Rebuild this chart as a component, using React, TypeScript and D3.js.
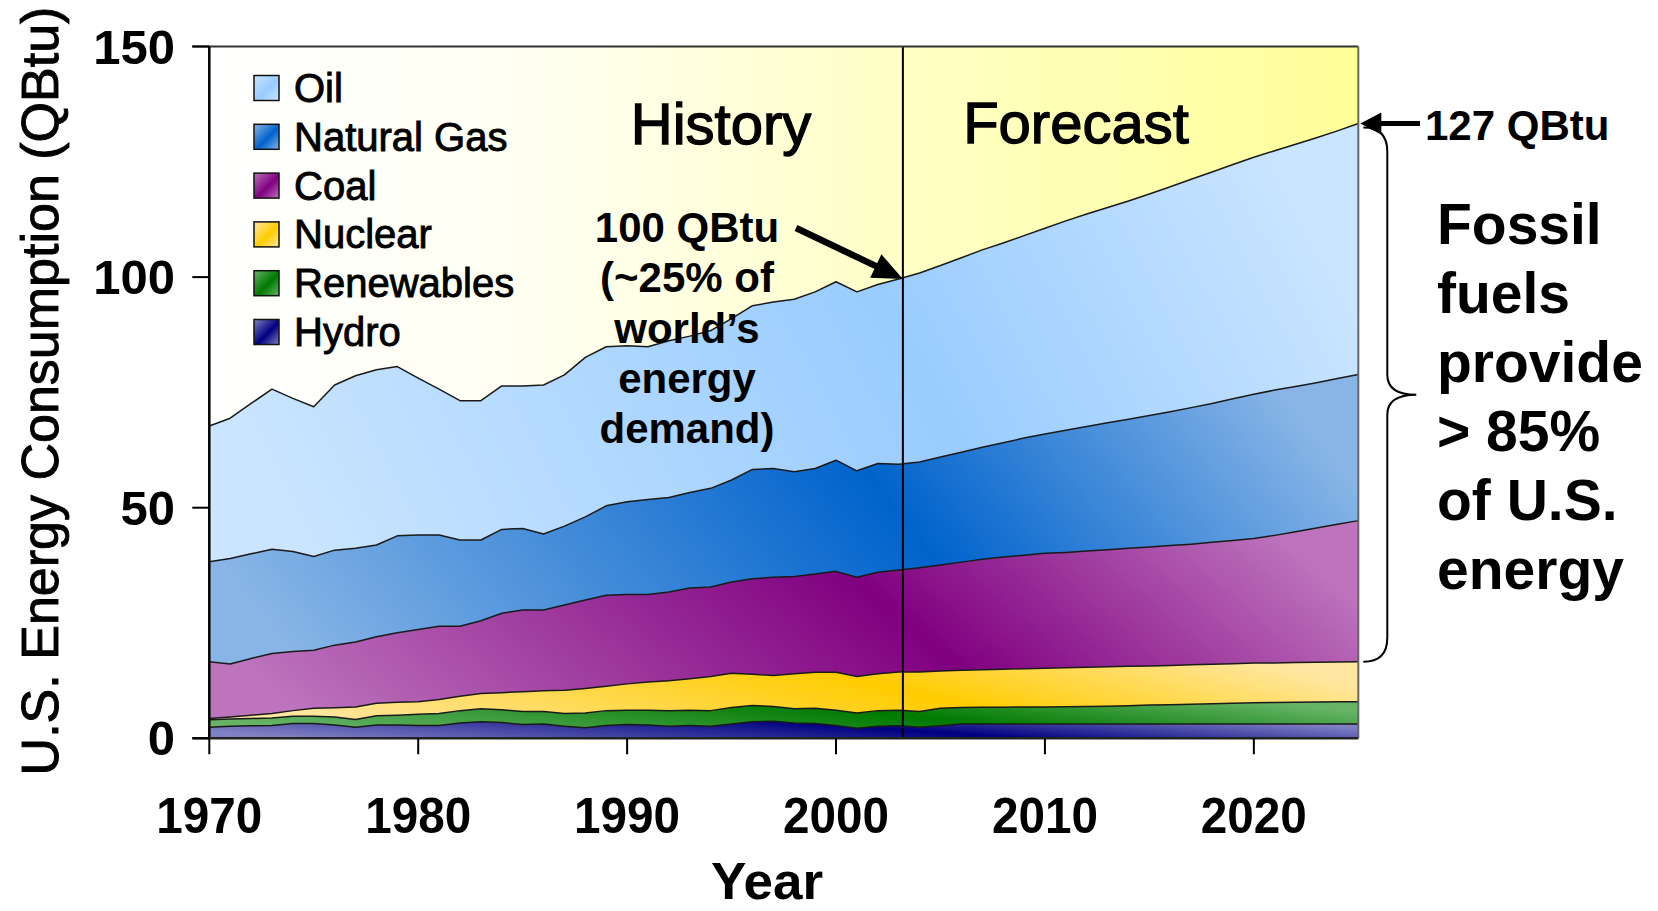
import React from "react";
import * as d3 from "d3";

// Years on the horizontal axis (history 1970–2003, forecast 2004–2025)
const years: number[] = d3.range(1970, 2026);

// U.S. energy consumption by source, QBtu
const hydro = [
  2.4, 2.6, 2.7, 2.8, 3.2, 3.2, 2.9, 2.4, 2.9, 2.9,
  2.8, 2.8, 3.3, 3.6, 3.4, 3.0, 3.1, 2.6, 2.3, 2.8,
  3.0, 2.9, 2.6, 2.8, 2.6, 3.1, 3.6, 3.7, 3.3, 3.2,
  2.8, 2.2, 2.6, 2.7, 2.4, 2.7, 3.1, 3.1, 3.1, 3.1,
  3.1, 3.1, 3.1, 3.1, 3.1, 3.1, 3.1, 3.1, 3.1, 3.1,
  3.1, 3.1, 3.1, 3.1, 3.1, 3.1,
];
const renewables = [
  1.6, 1.6, 1.6, 1.6, 1.6, 1.6, 1.7, 1.7, 2.0, 2.1,
  2.4, 2.6, 2.7, 2.8, 2.8, 2.8, 2.7, 2.8, 3.2, 3.2,
  3.1, 3.2, 3.4, 3.3, 3.4, 3.6, 3.5, 3.2, 3.1, 3.3,
  3.3, 3.3, 3.4, 3.4, 3.4, 3.8, 3.6, 3.65, 3.65, 3.7,
  3.7, 3.75, 3.8, 3.85, 3.95, 4.1, 4.2, 4.3, 4.4, 4.5,
  4.6, 4.65, 4.7, 4.75, 4.8, 4.8,
];
const nuclear = [
  0.3, 0.4, 0.7, 1.0, 1.2, 1.7, 2.0, 2.7, 2.7, 2.8,
  2.7, 3.0, 3.1, 3.3, 3.7, 4.3, 4.5, 5.0, 5.3, 5.3,
  5.7, 6.1, 6.5, 6.8, 7.4, 7.4, 6.8, 6.7, 7.6, 7.8,
  8.2, 7.9, 8.0, 8.3, 8.6, 8.1, 8.05, 8.1, 8.2, 8.3,
  8.4, 8.45, 8.5, 8.55, 8.55, 8.5, 8.5, 8.55, 8.55, 8.55,
  8.6, 8.6, 8.65, 8.65, 8.65, 8.7,
];
const coal = [
  12.3, 11.5, 12.3, 13.0, 12.8, 12.6, 13.6, 14.1, 14.4, 15.1,
  15.7, 15.9, 15.2, 15.8, 17.2, 17.7, 17.5, 18.5, 19.2, 19.7,
  19.4, 19.0, 19.2, 19.7, 19.4, 19.8, 20.7, 21.3, 21.1, 21.3,
  21.9, 21.5, 22.0, 22.1, 22.6, 23.0, 23.45, 23.95, 24.35, 24.6,
  24.9, 25.0, 25.2, 25.4, 25.6, 25.8, 26.0, 26.15, 26.45, 26.75,
  27.0, 27.65, 28.35, 29.1, 29.85, 30.6,
];
const gas = [
  21.7, 22.9, 22.7, 22.6, 21.7, 20.3, 20.6, 20.3, 19.9, 21.0,
  20.5, 19.8, 18.7, 17.5, 18.2, 17.7, 16.5, 17.1, 18.0, 19.4,
  20.1, 20.6, 20.5, 20.7, 21.4, 22.1, 23.7, 23.6, 22.7, 22.9,
  24.1, 23.1, 23.6, 22.9, 22.9, 23.4, 23.8, 24.3, 24.8, 25.4,
  25.9, 26.5, 27.0, 27.5, 28.0, 28.5, 29.0, 29.6, 30.1, 30.7,
  31.3, 31.5, 31.5, 31.5, 31.6, 31.7,
];
const oil = [
  29.4, 30.4, 32.6, 34.7, 33.2, 32.5, 35.8, 37.4, 38.0, 36.7,
  34.0, 31.6, 30.2, 30.2, 31.1, 30.9, 32.3, 32.8, 34.6, 34.5,
  33.8, 33.1, 34.0, 33.9, 34.2, 35.0, 35.5, 36.1, 37.4, 38.3,
  38.7, 38.8, 38.8, 40.2, 41.0, 41.5, 42.2, 42.8, 43.3, 43.9,
  44.6, 45.4, 46.1, 46.7, 47.3, 48.0, 48.8, 49.5, 50.2, 50.8,
  51.4, 51.9, 52.5, 53.1, 53.7, 54.4,
];

// Stack order, bottom to top, and legend order, top to bottom
const stackKeys = ["hydro", "renewables", "nuclear", "coal", "gas", "oil"];
const legendKeys = ["oil", "gas", "coal", "nuclear", "renewables", "hydro"];
const seriesLabels: Record<string, string> = {
  oil: "Oil",
  gas: "Natural Gas",
  coal: "Coal",
  nuclear: "Nuclear",
  renewables: "Renewables",
  hydro: "Hydro",
};

const yTicks = [0, 50, 100, 150];
const xTicks = [1970, 1980, 1990, 2000, 2010, 2020];

const lastHistoryYear = 2003;
const dividerYear = 2003.2;
const lastForecastYear = 2025;

const historyNote = ["100 QBtu", "(~25% of", "world\u2019s", "energy", "demand)"];
const forecastNote = "127 QBtu";
const fossilNote = ["Fossil", "fuels", "provide", "> 85%", "of U.S.", "energy"];

// Edge (light) and core (dark) shade of each source's fill
const shades: Record<string, [string, string]> = {
  oil: ["#CAE5FF", "#99CCFF"],
  gas: ["#88B5E6", "#0063CC"],
  coal: ["#BD74BD", "#800080"],
  nuclear: ["#FFE7A2", "#FFCC00"],
  renewables: ["#66B366", "#007A00"],
  hydro: ["#8080C4", "#000080"],
};

const FONT = "'Liberation Sans', Arial, Helvetica, sans-serif";

// a light outline thickens the regular-weight captions a little
const heavy = { stroke: "#000", strokeWidth: 0.9, paintOrder: "stroke" as const };

export default function App() {
  const W = 1658;
  const H = 911;
  const X0 = 209.3;
  const X1 = 1358.3;
  const Y0 = 738.3;
  const Y1 = 46.5;

  const x = d3.scaleLinear().domain([1970, 2025]).range([X0, X1]);
  const y = d3.scaleLinear().domain([0, 150]).range([Y0, Y1]);

  const rows = years.map((yr, i) => ({
    year: yr,
    hydro: hydro[i],
    renewables: renewables[i],
    nuclear: nuclear[i],
    coal: coal[i],
    gas: gas[i],
    oil: oil[i],
  }));

  const stacked = d3.stack<any>().keys(stackKeys)(rows);
  const area = d3
    .area<any>()
    .x((d) => x(d.data.year))
    .y0((d) => y(d[0]))
    .y1((d) => y(d[1]));
  const topLine = d3
    .line<any>()
    .x((d) => x(d.data.year))
    .y((d) => y(d[1]));

  const top = stacked[stacked.length - 1];
  const iHist = years.indexOf(lastHistoryYear);
  const iLast = years.indexOf(lastForecastYear);
  const totalHist = top[iHist][1];
  const totalLast = top[iLast][1];
  const fossilBottom = stacked[stackKeys.indexOf("coal")][iLast][0];

  const xDiv = x(dividerYear);

  // arrow to the 2003 total
  const a1Tip: [number, number] = [xDiv, y(totalHist)];
  const a1Start: [number, number] = [796, 228];
  const a1dx = a1Tip[0] - a1Start[0];
  const a1dy = a1Tip[1] - a1Start[1];
  const a1len = Math.hypot(a1dx, a1dy);
  const ux = a1dx / a1len;
  const uy = a1dy / a1len;
  const headL = 30;
  const headW = 13;
  const a1Base: [number, number] = [a1Tip[0] - ux * headL, a1Tip[1] - uy * headL];
  const a1Head = [
    a1Tip,
    [a1Base[0] - uy * headW, a1Base[1] + ux * headW],
    [a1Base[0] + uy * headW, a1Base[1] - ux * headW],
  ];

  // arrow to the 2025 total
  const a2Tip: [number, number] = [x(lastForecastYear) + 2, y(totalLast)];
  const a2Head = [
    a2Tip,
    [a2Tip[0] + 21, a2Tip[1] - 11],
    [a2Tip[0] + 21, a2Tip[1] + 11],
  ];

  // brace spanning the fossil share at 2025
  const bTop = y(totalLast) + 4;
  const bBot = y(fossilBottom);
  const bMid = (bTop + bBot) / 2;
  const bx0 = X1 + 5;
  const bx1 = X1 + 29;
  const bx2 = X1 + 58;
  const brace =
    `M${bx0},${bTop} Q${bx1},${bTop} ${bx1},${bTop + 24} ` +
    `L${bx1},${bMid - 20} Q${bx1},${bMid} ${bx2},${bMid} ` +
    `Q${bx1},${bMid} ${bx1},${bMid + 20} ` +
    `L${bx1},${bBot - 24} Q${bx1},${bBot} ${bx0},${bBot}`;

  const legendTop = 88;
  const legendStep = 48.8;

  return (
    <svg
      width={W}
      height={H}
      viewBox={`0 0 ${W} ${H}`}
      style={{ position: "absolute", left: 0, top: 0, background: "#fff" }}
      fontFamily={FONT}
    >
      <defs>
        <linearGradient id="plot-bg" x1="0" y1="0" x2="1" y2="0">
          <stop offset="0" stopColor="#FFFFFF" />
          <stop offset="0.3" stopColor="#FFFFF0" />
          <stop offset="0.6" stopColor="#FFFFC6" />
          <stop offset="1" stopColor="#FFFF99" />
        </linearGradient>
        {stackKeys.map((k) => (
          <linearGradient key={k} id={`fill-${k}`} x1="0" y1="0.6" x2="1" y2="0.4">
            <stop offset="0" stopColor={shades[k][0]} />
            <stop offset="0.6" stopColor={shades[k][1]} />
            <stop offset="1" stopColor={shades[k][0]} />
          </linearGradient>
        ))}
        {stackKeys.map((k) => (
          <linearGradient key={k} id={`swatch-${k}`} x1="0" y1="0" x2="1" y2="1">
            <stop offset="0" stopColor={shades[k][0]} />
            <stop offset="0.55" stopColor={shades[k][1]} />
            <stop offset="1" stopColor={shades[k][0]} />
          </linearGradient>
        ))}
      </defs>

      {/* plot background */}
      <rect x={X0} y={Y1} width={X1 - X0} height={Y0 - Y1} fill="url(#plot-bg)" />

      {/* stacked areas */}
      {stacked.map((s) => (
        <path key={s.key} d={area(s) || ""} fill={`url(#fill-${s.key})`} />
      ))}
      {stacked.map((s) => (
        <path
          key={`l-${s.key}`}
          d={topLine(s) || ""}
          fill="none"
          stroke="#1a1a1a"
          strokeWidth={1.5}
          strokeLinejoin="round"
        />
      ))}

      {/* history / forecast divider */}
      <line x1={xDiv} x2={xDiv} y1={Y1} y2={Y0} stroke="#000" strokeWidth={2} />

      {/* frame */}
      <line x1={X0 - 17} x2={X1} y1={Y1} y2={Y1} stroke="#333" strokeWidth={2} />
      <line x1={X1} x2={X1} y1={Y1} y2={Y0} stroke="#666" strokeWidth={2} />
      <line x1={X0} x2={X0} y1={Y1} y2={Y0} stroke="#000" strokeWidth={2.5} />
      <line x1={X0 - 17} x2={X1} y1={Y0} y2={Y0} stroke="#222" strokeWidth={2.5} />

      {/* y axis ticks and labels */}
      {yTicks.map((t) => (
        <g key={`y${t}`}>
          <line x1={X0 - 17} x2={X0} y1={y(t)} y2={y(t)} stroke="#000" strokeWidth={2} />
          <text
            x={175}
            y={y(t)}
            dy="0.35em"
            textAnchor="end"
            fontWeight="bold"
            fontSize={49}
            fill="#000"
          >
            {t}
          </text>
        </g>
      ))}

      {/* x axis ticks and labels */}
      {xTicks.map((t) => (
        <g key={`x${t}`}>
          <line x1={x(t)} x2={x(t)} y1={Y0} y2={Y0 + 16} stroke="#000" strokeWidth={2} />
          <text
            x={x(t)}
            y={833}
            textAnchor="middle"
            fontWeight="bold"
            fontSize={50}
            textLength={106}
            lengthAdjust="spacingAndGlyphs"
            fill="#000"
          >
            {t}
          </text>
        </g>
      ))}

      {/* axis titles */}
      <text
        x={767}
        y={899}
        textAnchor="middle"
        fontWeight="bold"
        fontSize={52}
        textLength={112}
        lengthAdjust="spacingAndGlyphs"
        fill="#000"
      >
        Year
      </text>
      <text
        transform="translate(58,391) rotate(-90)"
        textAnchor="middle"
        fontSize={52}
        fill="#000"
        {...heavy}
      >
        U.S. Energy Consumption (QBtu)
      </text>

      {/* legend */}
      {legendKeys.map((k, i) => {
        const cy = legendTop + i * legendStep;
        return (
          <g key={`lg-${k}`}>
            <rect
              x={254}
              y={cy - 12.5}
              width={25}
              height={25}
              fill={`url(#swatch-${k})`}
              stroke="#111"
              strokeWidth={1.5}
            />
            <text x={294} y={cy} dy="0.35em" fontSize={40} fill="#000" {...heavy}>
              {seriesLabels[k]}
            </text>
          </g>
        );
      })}

      {/* period headers */}
      <text x={721} y={143.5} textAnchor="middle" fontSize={58} fill="#000" {...heavy} strokeWidth={1.3}>
        History
      </text>
      <text x={1076} y={143} textAnchor="middle" fontSize={58} fill="#000" {...heavy} strokeWidth={1.3}>
        Forecast
      </text>

      {/* 2003 note and arrow */}
      {historyNote.map((s, i) => (
        <text
          key={`hn${i}`}
          x={687}
          y={242 + i * 50.3}
          textAnchor="middle"
          fontWeight="bold"
          fontSize={42}
          fill="#000"
        >
          {s}
        </text>
      ))}
      <line
        x1={a1Start[0]}
        y1={a1Start[1]}
        x2={a1Base[0] + ux * 2}
        y2={a1Base[1] + uy * 2}
        stroke="#000"
        strokeWidth={6.5}
      />
      <polygon points={a1Head.map((p) => p.join(",")).join(" ")} fill="#000" />

      {/* 2025 note and arrow */}
      <line
        x1={a2Tip[0] + 19}
        y1={a2Tip[1]}
        x2={1420}
        y2={a2Tip[1]}
        stroke="#000"
        strokeWidth={5}
      />
      <polygon points={a2Head.map((p) => p.join(",")).join(" ")} fill="#000" />
      <text x={1425} y={140} fontWeight="bold" fontSize={42} fill="#000">
        {forecastNote}
      </text>

      {/* fossil share brace and note */}
      <path d={brace} fill="none" stroke="#000" strokeWidth={2} />
      {fossilNote.map((s, i) => (
        <text
          key={`fn${i}`}
          x={1437}
          y={244 + i * 69}
          fontWeight="bold"
          fontSize={57}
          fill="#000"
        >
          {s}
        </text>
      ))}
    </svg>
  );
}
